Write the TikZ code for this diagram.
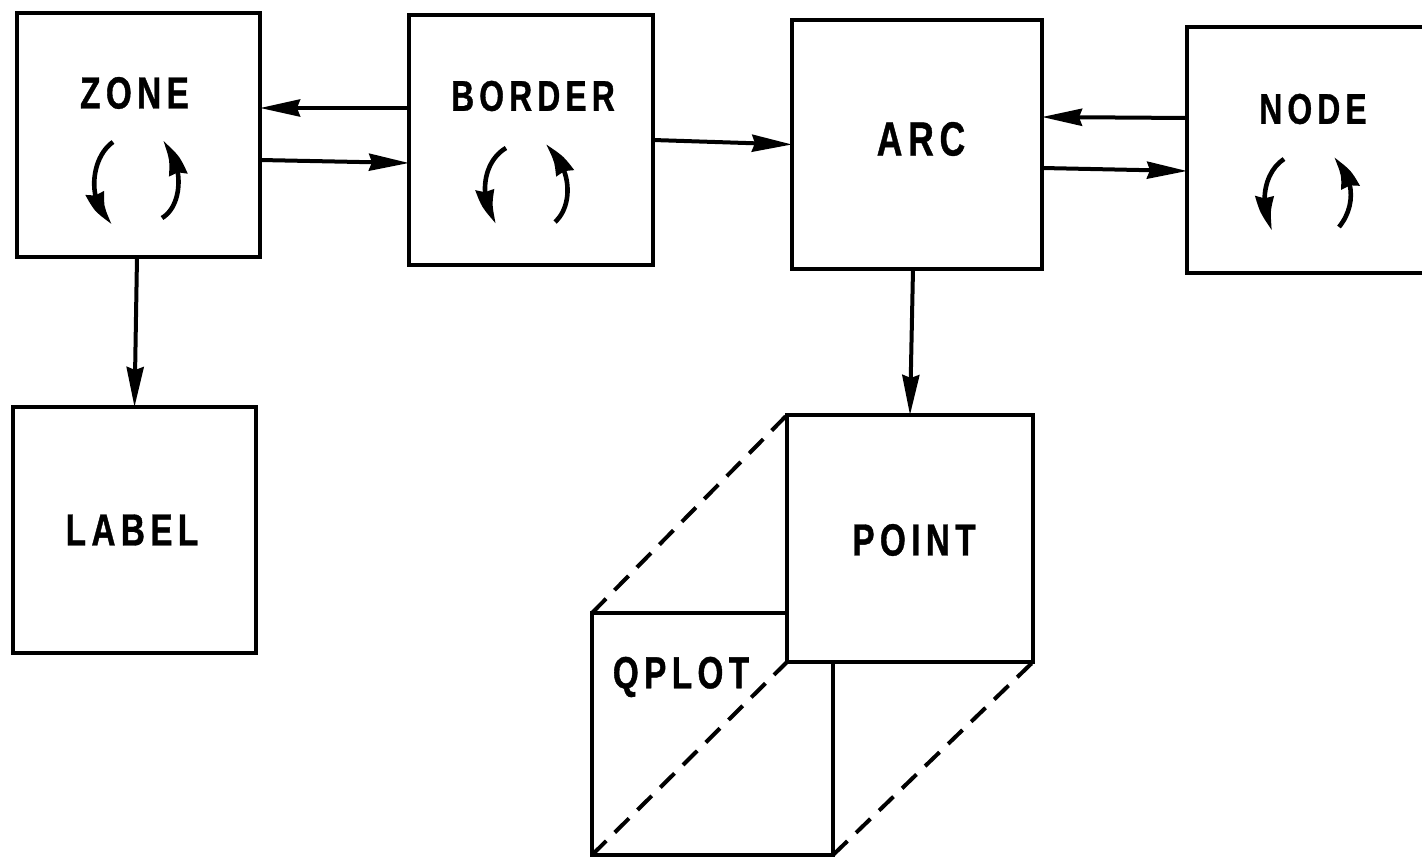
\documentclass[tikz,border=0pt]{standalone}
\usepackage{fontspec}
\newfontfamily\lettering{Liberation Sans}[FakeStretch=0.74,LetterSpace=12,FakeBold=0.8]
\usetikzlibrary{arrows.meta,bending}
\begin{document}
\begin{tikzpicture}[x=1pt,y=-1pt,
  box/.style={draw, line width=4.8pt, outer sep=0pt, inner sep=0pt, fill=white},
  caption/.style={font=\lettering\bfseries\fontsize{45}{45}\selectfont, inner sep=0pt},
  conn/.style={line width=4pt, -{Stealth[length=40pt,width=17pt,inset=3pt]}},
  loop/.style={line width=4.6pt, -{Stealth[length=36pt,width=18pt,inset=2pt,bend]}},
  hidden/.style={line width=4pt, dash pattern=on 20pt off 12pt}
]
\useasboundingbox (0,0) rectangle (1422,858);
\clip (0,0) rectangle (1422,858);

% module boxes
\node[box, minimum width=243pt, minimum height=244pt] (zone)   at (138.5,135) {};
\node[box, minimum width=244pt, minimum height=250pt] (border) at (531,140) {};
\node[box, minimum width=250pt, minimum height=249pt] (arc)    at (917,144.5) {};
\node[box, minimum width=250pt, minimum height=246pt] (nodebox) at (1312,150) {};
\node[box, minimum width=243pt, minimum height=246pt] (label)  at (134.5,530) {};
\node[box, minimum width=241pt, minimum height=242pt] (qplot)  at (712.5,734) {};
\node[box, minimum width=246pt, minimum height=247pt] (point)  at (910,538.5) {};

% box titles
\node[caption] (zonetext)   at (134.5,93) {ZONE};
\node[caption, font=\lettering\bfseries\fontsize{43}{43}\selectfont] (bordertext) at (533,96) {BORDER};
\node[caption, font=\lettering\bfseries\fontsize{48}{48}\selectfont] (arctext) at (921,139) {ARC};
\node[caption, font=\lettering\bfseries\fontsize{43}{43}\selectfont] (nodetext) at (1313,109) {NODE};
\node[caption] (labeltext)  at (132,530) {LABEL};
\node[caption] (pointtext)  at (914,540) {POINT};
\node[caption] (qplottext)  at (681,677) {QPLOT};

% self-referencing loops
\draw[loop] (113,142) .. controls (90,158) and (86,205) .. (113,223);
\draw[loop] (162,218) .. controls (184,205) and (184,160) .. (162,142);
\draw[loop] (506,148) .. controls (482,162) and (478,200) .. (497,223);
\draw[loop] (555,222) .. controls (574,205) and (572,165) .. (545,145);
\draw[loop] (1284,159) .. controls (1264,172) and (1258,205) .. (1273,230);
\draw[loop] (1339,227) .. controls (1357,205) and (1354,175) .. (1333,158);

% connections between modules
\draw[conn] ([yshift=32pt]border.west) -- ([yshift=27pt]zone.east);
\draw[conn] ([yshift=-25pt]zone.east) -- ([yshift=-23pt]border.west);
\draw[conn] (border.east) -- (arc.west);
\draw[conn] ([yshift=32pt]nodebox.west) -- ([yshift=27.5pt]arc.east);
\draw[conn] ([yshift=-23.5pt]arc.east) -- ([yshift=-21pt]nodebox.west);
\draw[conn] ([xshift=-1.5pt]zone.south) -- (label.north);
\draw[conn] ([xshift=-4pt]arc.south) -- (point.north);

% hidden edges of the stacked boxes
\draw[hidden] (qplot.north west) -- (point.north west);
\draw[hidden] (qplot.south west) -- (point.south west);
\draw[hidden] (qplot.south east) -- (point.south east);
\end{tikzpicture}
\end{document}
